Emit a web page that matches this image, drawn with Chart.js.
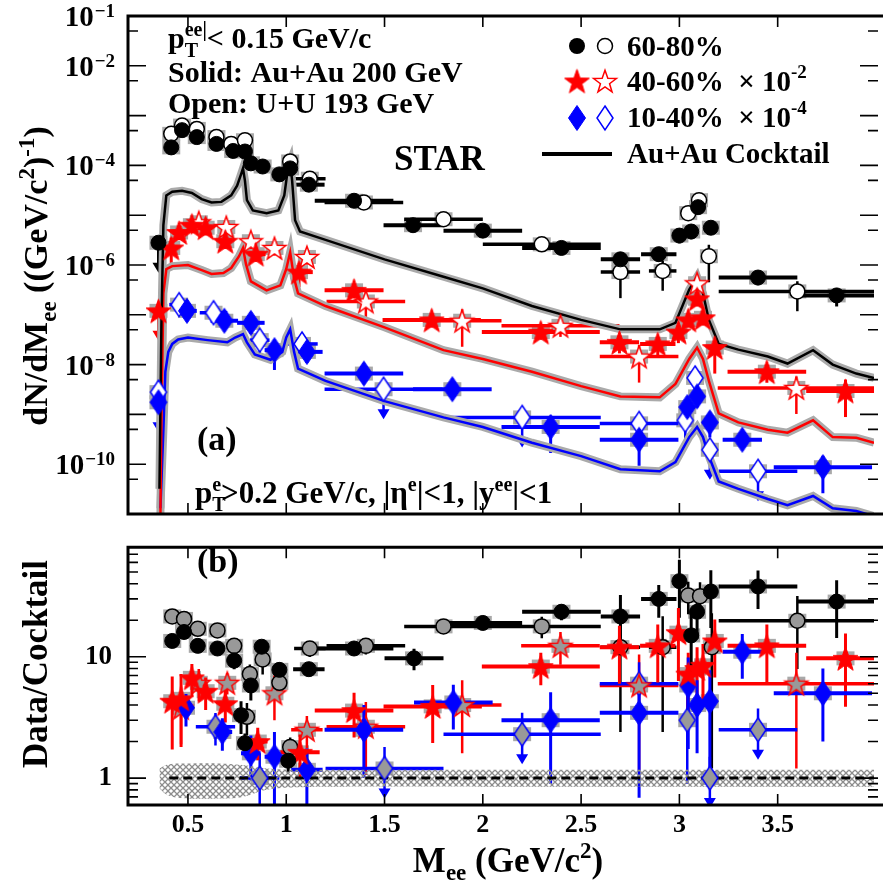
<!DOCTYPE html>
<html>
<head>
<meta charset="utf-8">
<script src="https://cdn.jsdelivr.net/npm/chart.js@4.4.0/dist/chart.umd.min.js"></script>
<style>
  body { margin: 0; background: #fff; }
  #wrap { position: relative; width: 885px; height: 885px; overflow: hidden; background: #fff; }
  canvas { position: absolute; left: 0; }
  #top { top: 0; }
  #bottom { top: 515px; }
</style>
</head>
<body>
<div id="wrap">
  <canvas id="top" width="885" height="525"></canvas>
  <canvas id="bottom" width="885" height="370"></canvas>
</div>
<script>
// ---------- panel (a): dN/dM ----------
const m6080AuAu = [0.35, 0.415, 0.47, 0.545, 0.645, 0.73, 0.79, 0.82, 0.88, 0.965, 1.02, 1.115, 1.345, 1.645, 2.0, 2.4, 2.7, 2.895, 3.0, 3.06, 3.095, 3.16, 3.4, 3.8];
const y6080AuAu = [2.8e-6, 2.3e-4, 5.1e-4, 3.7e-4, 2.7e-4, 1.95e-4, 1.9e-4, 1.1e-4, 9.5e-5, 6.6e-5, 8.7e-5, 4.1e-5, 1.95e-5, 6.3e-6, 4.9e-6, 2.2e-6, 1.3e-6, 1.65e-6, 3.9e-6, 4.7e-6, 1.45e-5, 5.6e-6, 5.6e-7, 2.45e-7];
const dx6080AuAu = [0, 0, 0, 0, 0, 0, 0, 0, 0, 0, 0, 0.08, 0.2, 0.15, 0.2, 0.2, 0.1, 0.09, 0, 0, 0, 0, 0.2, 0.2];
const e6080AuAu = [0.3, 0.1, 0.1, 0.1, 0.1, 0.1, 0.1, 0.1, 0.1, 0.1, 0.1, 0.1, 0.1, 0.15, 0.15, 0.2, 0.3, 0.3, 0.3, 0.3, 0.2, 0.2, 0.3, 0.4];
const ul6080AuAu = [1, 0, 0, 0, 0, 0, 0, 0, 0, 0, 0, 0, 0, 0, 0, 0, 0, 0, 0, 0, 0, 0, 0, 0];

const m6080UU = [0.415, 0.47, 0.545, 0.645, 0.72, 0.79, 1.02, 1.12, 1.395, 1.8, 2.3, 2.7, 2.915, 3.045, 3.1, 3.15, 3.6];
const y6080UU = [4.3e-4, 6.3e-4, 5.4e-4, 3.7e-4, 2.7e-4, 3.2e-4, 1.2e-4, 5.4e-5, 1.8e-5, 8.3e-6, 2.6e-6, 7.2e-7, 7.6e-7, 1.1e-5, 2.0e-5, 1.5e-6, 2.95e-7];
const dx6080UU = [0, 0, 0, 0, 0, 0, 0, 0.08, 0.2, 0.2, 0.3, 0.1, 0.07, 0, 0, 0, 0.4];
const e6080UU = [0.1, 0.1, 0.1, 0.1, 0.1, 0.1, 0.1, 0.1, 0.15, 0.15, 0.2, 0.7, 0.6, 0.3, 0.2, 0.7, 0.6];

const m4060AuAu = [0.35, 0.415, 0.455, 0.52, 0.59, 0.69, 0.845, 1.065, 1.345, 1.74, 2.295, 2.695, 2.89, 2.995, 3.045, 3.09, 3.12, 3.18, 3.445, 3.845];
const y4060AuAu = [1.2e-7, 2.2e-6, 4.5e-6, 6.3e-6, 5.6e-6, 3.0e-6, 1.65e-6, 7.2e-7, 3.1e-7, 7.9e-8, 4.5e-8, 2.8e-8, 2.6e-8, 4.5e-8, 7.9e-8, 2.1e-7, 8.7e-8, 2.2e-8, 7.2e-9, 2.95e-9];
const dx4060AuAu = [0, 0, 0, 0, 0, 0, 0.05, 0.07, 0.15, 0.25, 0.3, 0.1, 0.09, 0, 0, 0, 0, 0, 0.2, 0.2];
const e4060AuAu = [0.5, 0.6, 0.3, 0.3, 0.3, 0.3, 0.3, 0.5, 0.3, 0.3, 0.3, 0.4, 0.4, 0.4, 0.3, 0.3, 0.3, 0.7, 0.4, 0.7];
const ul4060AuAu = [1, 0, 0, 0, 0, 0, 0, 0, 0, 0, 0, 0, 0, 0, 0, 0, 0, 0, 0, 0];

const m4060UU = [0.555, 0.695, 0.82, 0.94, 1.105, 1.405, 1.895, 2.395, 2.795, 3.09, 3.595];
const y4060UU = [7.2e-6, 5.8e-6, 3.0e-6, 2.2e-6, 1.45e-6, 1.85e-7, 7.6e-8, 6.0e-8, 1.45e-8, 4.3e-7, 3.4e-9];
const dx4060UU = [0, 0, 0, 0, 0, 0.2, 0.2, 0.3, 0.2, 0, 0.4];
const e4060UU = [0.3, 0.3, 0.3, 0.3, 0.3, 0.6, 0.7, 0.4, 0.7, 0.3, 0.7];

const m1040AuAu = [0.35, 0.495, 0.685, 0.82, 0.94, 1.105, 1.395, 1.845, 2.345, 2.795, 3.04, 3.09, 3.155, 3.32, 3.73];
const y1040AuAu = [1.75e-9, 1.2e-7, 7.6e-8, 6.9e-8, 1.95e-8, 1.8e-8, 6.6e-9, 3.2e-9, 5.6e-10, 3.1e-10, 1.4e-9, 2.3e-9, 6.9e-10, 3.1e-10, 8.7e-11];
const dx1040AuAu = [0, 0.05, 0.07, 0.07, 0.05, 0.08, 0.2, 0.2, 0.25, 0.2, 0, 0, 0, 0.1, 0.25];
const e1040AuAu = [0.7, 0.3, 0.3, 0.4, 0.6, 0.4, 0.3, 0.3, 0.7, 0.7, 0.5, 0.4, 0.5, 0.3, 0.7];
const ul1040AuAu = [1, 0, 0, 0, 0, 0, 0, 0, 0, 0, 0, 0, 0, 0, 0];

const m1040UU = [0.35, 0.455, 0.63, 0.865, 1.08, 1.495, 2.2, 2.795, 3.03, 3.08, 3.155, 3.4];
const y1040UU = [2.8e-9, 1.6e-7, 1.1e-7, 3.1e-8, 2.6e-8, 3.2e-9, 8.7e-10, 6.6e-10, 7.6e-10, 5.4e-9, 1.95e-10, 7.2e-11];
const dx1040UU = [0, 0.05, 0.07, 0.05, 0.08, 0.3, 0.4, 0.2, 0, 0, 0, 0.2];
const e1040UU = [0.6, 0.3, 0.3, 0.5, 0.4, 0.5, 0.5, 0.4, 0.6, 0.4, 0.5, 0.5];
const ul1040UU = [0, 0, 0, 0, 0, 1, 1, 0, 0, 0, 1, 1];

// cocktails
const ckBlackM = [0.355, 0.365, 0.375, 0.39, 0.42, 0.47, 0.52, 0.57, 0.62, 0.67, 0.72, 0.75, 0.77, 0.78, 0.79, 0.80, 0.83, 0.9, 0.96, 0.99, 1.01, 1.02, 1.03, 1.045, 1.07, 1.2, 1.5, 1.8, 2.0, 2.25, 2.5, 2.7, 2.9, 2.98, 3.05, 3.09, 3.12, 3.15, 3.2, 3.3, 3.45, 3.55, 3.68, 3.78, 3.9, 3.99];
const ckBlackY = [3.2e-11, 6.9e-8, 6.3e-6, 2.5e-5, 2.95e-5, 3.1e-5, 2.8e-5, 2.1e-5, 1.8e-5, 1.85e-5, 2.5e-5, 3.9e-5, 6.6e-5, 8.7e-5, 4.9e-5, 2.0e-5, 1.25e-5, 1.1e-5, 1.25e-5, 2.5e-5, 9.5e-5, 1.2e-4, 4.9e-5, 7.9e-6, 4.7e-6, 3.2e-6, 1.3e-6, 5.8e-7, 3.4e-7, 1.5e-7, 7.9e-8, 5.1e-8, 5.1e-8, 6.9e-8, 3.2e-7, 5.8e-7, 2.7e-7, 7.9e-8, 2.6e-8, 2.0e-8, 1.45e-8, 1.05e-8, 1.95e-8, 1.0e-8, 6.6e-9, 5.4e-9];
const ckRedM = [0.36, 0.365, 0.375, 0.39, 0.42, 0.5, 0.57, 0.62, 0.68, 0.72, 0.76, 0.78, 0.795, 0.82, 0.9, 0.97, 1.0, 1.02, 1.04, 1.06, 1.2, 1.5, 1.8, 2.0, 2.25, 2.5, 2.7, 2.9, 2.98, 3.05, 3.09, 3.12, 3.15, 3.2, 3.3, 3.45, 3.55, 3.68, 3.78, 3.9, 3.99];
const ckRedY = [1e-11, 7.6e-10, 2.7e-7, 8.3e-7, 9.5e-7, 1.0e-6, 7.9e-7, 6.6e-7, 6.9e-7, 8.7e-7, 1.5e-6, 2.2e-6, 1.05e-6, 4.7e-7, 3.1e-7, 3.9e-7, 8.3e-7, 1.8e-6, 5.4e-7, 2.7e-7, 1.5e-7, 5.6e-8, 1.95e-8, 1.3e-8, 7.2e-9, 3.7e-9, 2.3e-9, 2.2e-9, 4.1e-9, 1.3e-8, 2.2e-8, 1.3e-8, 4.7e-9, 1.05e-9, 6.9e-10, 4.9e-10, 4.3e-10, 7.6e-10, 3.5e-10, 3.4e-10, 2.7e-10];
const ckBlueM = [0.36, 0.375, 0.385, 0.4, 0.42, 0.45, 0.5, 0.6, 0.7, 0.74, 0.78, 0.8, 0.84, 0.92, 0.98, 1.0, 1.02, 1.04, 1.06, 1.2, 1.5, 1.8, 2.0, 2.25, 2.5, 2.7, 2.9, 2.98, 3.05, 3.09, 3.12, 3.15, 3.2, 3.3, 3.45, 3.55, 3.68, 3.78, 3.9, 3.99];
const ckBlueY = [1.3e-11, 4.9e-10, 7.2e-9, 1.8e-8, 2.6e-8, 3.2e-8, 3.5e-8, 3.1e-8, 2.8e-8, 3.5e-8, 4.1e-8, 2.8e-8, 1.6e-8, 1.25e-8, 1.8e-8, 3.5e-8, 5.1e-8, 1.8e-8, 8.3e-9, 4.7e-9, 1.85e-9, 8.7e-10, 5.6e-10, 2.7e-10, 1.45e-10, 7.9e-11, 7.2e-11, 1.1e-10, 3.5e-10, 5.6e-10, 3.5e-10, 1.45e-10, 4.5e-11, 3.2e-11, 2.0e-11, 1.5e-11, 2.3e-11, 1.3e-11, 1.15e-11, 9e-12];

// ---------- panel (b): Data/Cocktail ----------
const rm6080AuAu = [0.42, 0.48, 0.55, 0.65, 0.735, 0.77, 0.79, 0.82, 0.875, 0.965, 1.01, 1.115, 1.345, 1.65, 2.0, 2.4, 2.7, 2.895, 3.0, 3.06, 3.09, 3.16, 3.4, 3.8];
const r6080AuAu = [13.5, 16, 12.3, 11.7, 9.3, 3.3, 1.94, 5.8, 12.1, 7.8, 1.39, 7.9, 11.7, 9.7, 19, 23.5, 21.5, 30, 42, 15, 23.5, 34.5, 38, 28.5];
const rdx6080AuAu = [0, 0, 0, 0, 0, 0, 0, 0, 0, 0, 0, 0.08, 0.2, 0.15, 0.2, 0.2, 0.1, 0.09, 0, 0, 0, 0, 0.2, 0.2];
const re6080AuAu = [0.1, 0.1, 0.08, 0.08, 0.15, 0.3, 0.2, 0.25, 0.1, 0.15, 0.2, 0.1, 0.1, 0.2, 0.1, 0.15, 0.5, 0.3, 0.5, 0.6, 0.4, 0.5, 0.35, 0.5];

const rm6080UU = [0.42, 0.48, 0.55, 0.65, 0.735, 0.8, 0.815, 0.88, 0.965, 1.02, 1.12, 1.405, 1.8, 2.3, 2.7, 2.915, 3.045, 3.105, 3.165, 3.6];
const r6080UU = [21.5, 20.5, 17, 16.5, 12.3, 3.2, 7.2, 9.5, 6.1, 1.8, 11.7, 12.3, 17.8, 17.8, 12, 12, 32, 31.6, 12, 19.8];
const rdx6080UU = [0, 0, 0, 0, 0, 0, 0, 0, 0, 0, 0.08, 0.2, 0.2, 0.3, 0.1, 0.07, 0, 0, 0, 0.4];
const re6080UU = [0.1, 0.1, 0.1, 0.1, 0.15, 0.3, 0.2, 0.25, 0.2, 0.2, 0.15, 0.15, 0.1, 0.2, 0.8, 0.8, 0.3, 0.3, 0.9, 0.6];

const rm4060AuAu = [0.42, 0.465, 0.52, 0.59, 0.69, 0.855, 1.07, 1.345, 1.745, 2.295, 2.695, 2.89, 2.995, 3.045, 3.09, 3.12, 3.18, 3.445, 3.845];
const r4060AuAu = [4.3, 4.5, 6.7, 5.2, 4.1, 2.0, 1.63, 3.6, 3.9, 8.3, 12, 12.3, 15.8, 7.2, 8, 8.5, 13.5, 12.3, 9.7];
const rdx4060AuAu = [0, 0, 0, 0, 0, 0.05, 0.1, 0.2, 0.25, 0.3, 0.1, 0.09, 0, 0, 0, 0, 0, 0.2, 0.2];
const re4060AuAu = [0.6, 0.6, 0.3, 0.3, 0.3, 0.3, 0.4, 0.4, 0.5, 0.3, 0.5, 0.5, 0.6, 0.5, 0.5, 0.5, 0.5, 0.5, 0.6];

const rm4060UU = [0.465, 0.555, 0.7, 0.94, 1.105, 1.405, 1.895, 2.395, 2.795, 3.595];
const r4060UU = [3.8, 6.1, 6.1, 5.0, 2.5, 2.65, 4.0, 12.3, 5.8, 6.0];
const rdx4060UU = [0, 0, 0, 0, 0.08, 0.2, 0.2, 0.2, 0.2, 0.4];
const re4060UU = [0.5, 0.3, 0.2, 0.4, 0.3, 0.6, 0.6, 0.3, 0.8, 0.8];

const rm1040AuAu = [0.49, 0.675, 0.82, 0.94, 1.105, 1.395, 1.85, 2.345, 2.795, 3.045, 3.09, 3.155, 3.32, 3.73];
const r1040AuAu = [3.8, 2.4, 1.6, 1.5, 1.17, 2.5, 4.2, 3.0, 3.45, 5.8, 4.0, 4.3, 11, 5.0];
const rdx1040AuAu = [0, 0.05, 0.05, 0.05, 0.08, 0.2, 0.2, 0.25, 0.2, 0, 0, 0, 0.1, 0.25];
const re1040AuAu = [0.3, 0.3, 0.4, 0.6, 0.5, 0.6, 0.4, 0.7, 0.8, 0.7, 0.6, 0.8, 0.4, 0.6];

const rm1040UU = [0.64, 0.865, 1.5, 2.2, 2.795, 3.04, 3.155, 3.4];
const r1040UU = [2.65, 1.0, 1.2, 2.3, 6.0, 3.0, 1.0, 2.5];
const rdx1040UU = [0.1, 0.1, 0.3, 0.4, 0.2, 0, 0, 0.2];
const re1040UU = [0.3, 0.6, 0.5, 0.5, 0.5, 0.7, 0.5, 0.5];
const rul1040UU = [0, 0, 1, 1, 0, 0, 1, 1];

// cocktail uncertainty band around 1
const bandM = [0.355, 0.4, 0.5, 0.65, 0.78, 0.9, 1.05, 1.3, 2.0, 3.0, 3.99];
const bandHi = [1.2, 1.3, 1.32, 1.32, 1.28, 1.2, 1.17, 1.17, 1.17, 1.17, 1.17];
const bandLo = [0.82, 0.72, 0.68, 0.68, 0.7, 0.8, 0.84, 0.85, 0.85, 0.85, 0.85];

const xTickVals = [0.5, 1, 1.5, 2, 2.5, 3, 3.5];
const topLabelExp = [-1, -2, -4, -6, -8, -10];
const ratioLabels = [1, 10];

const SERIF = '"Liberation Serif", "Times New Roman", serif';
const RED = '#ff0000', BLUE = '#0000ff', BOXGRAY = '#a9a9a9';

// ---------- marker images ----------
function makeStar(r, fill, stroke, lw) {
  const s = Math.ceil(2 * r + lw + 4);
  const c = document.createElement('canvas');
  c.width = s; c.height = s;
  const g = c.getContext('2d');
  g.translate(s / 2, s / 2 + r * 0.1);
  g.beginPath();
  for (let i = 0; i < 10; i++) {
    const rad = i % 2 === 0 ? r : r * 0.4;
    const a = -Math.PI / 2 + i * Math.PI / 5;
    g.lineTo(rad * Math.cos(a), rad * Math.sin(a));
  }
  g.closePath();
  g.fillStyle = fill; g.fill();
  g.strokeStyle = stroke; g.lineWidth = lw; g.stroke();
  return c;
}
function makeDiamond(w, h, fill, stroke, lw) {
  const c = document.createElement('canvas');
  c.width = Math.ceil(w + lw + 2); c.height = Math.ceil(h + lw + 2);
  const g = c.getContext('2d');
  const cx = c.width / 2, cy = c.height / 2;
  g.beginPath();
  g.moveTo(cx, cy - h / 2); g.lineTo(cx + w / 2, cy); g.lineTo(cx, cy + h / 2); g.lineTo(cx - w / 2, cy);
  g.closePath();
  g.fillStyle = fill; g.fill();
  g.strokeStyle = stroke; g.lineWidth = lw; g.stroke();
  return c;
}
const starSolid = makeStar(13, RED, RED, 1);
const starOpenTop = makeStar(12, '#fff', RED, 1.5);
const starOpenBot = makeStar(12, '#999', RED, 1.5);
const diaSolid = makeDiamond(17, 25, BLUE, BLUE, 1);
const diaOpenTop = makeDiamond(16, 24, '#fff', BLUE, 1.5);
const diaOpenBot = makeDiamond(16, 24, '#999', BLUE, 1.5);

function pts(m, v) { return m.map((x, i) => ({ x: x, y: v[i] })); }

function series(m, v, dx, err, ul, style) {
  return Object.assign({ data: pts(m, v), dx: dx, err: err, ul: ul, showLine: false }, style);
}
function curve(m, v, color, width, order) {
  return { data: pts(m, v), showLine: true, pointRadius: 0, borderColor: color, borderWidth: width, tension: 0, order: order, fill: false };
}

const circleSolid = { pointStyle: 'circle', pointRadius: 7.5, pointBackgroundColor: '#000', pointBorderColor: '#000', pointBorderWidth: 1, ebColor: '#000', ebWidth: 3, order: 1 };

// ---------- text helper ----------
function richText(ctx, x, y, parts, draw) {
  let cx = x;
  parts.forEach(p => {
    ctx.font = 'bold ' + p[1] + 'px ' + SERIF;
    if (draw !== false) ctx.fillText(p[0], cx, y + (p[2] || 0));
    if (!p[3]) cx += ctx.measureText(p[0]).width;
  });
  return cx - x;
}

// ---------- plugins ----------
const errorBars = {
  id: 'errorBars',
  beforeDatasetsDraw(chart) {
    const { ctx, chartArea: a, scales: { x, y } } = chart;
    ctx.save();
    ctx.beginPath();
    ctx.rect(a.left, a.top, a.right - a.left, a.bottom - a.top);
    ctx.clip();
    chart.data.datasets.forEach(ds => {
      if (!ds.ebColor) return;
      ctx.fillStyle = BOXGRAY;
      ds.data.forEach(p => {
        const px = x.getPixelForValue(p.x), py = y.getPixelForValue(p.y);
        ctx.fillRect(px - 9, py - 7, 18, 14);
      });
    });
    chart.data.datasets.forEach(ds => {
      if (!ds.ebColor) return;
      ctx.strokeStyle = ds.ebColor;
      ctx.fillStyle = ds.ebColor;
      ds.data.forEach((p, i) => {
        const px = x.getPixelForValue(p.x), py = y.getPixelForValue(p.y);
        const dx = ds.dx[i], e = ds.err[i];
        const isUl = ds.ul && ds.ul[i];
        ctx.lineWidth = ds.ebWidth + 1;
        if (dx > 0) {
          ctx.beginPath();
          ctx.moveTo(x.getPixelForValue(p.x - dx), py);
          ctx.lineTo(x.getPixelForValue(p.x + dx), py);
          ctx.stroke();
        }
        ctx.lineWidth = ds.ebWidth;
        const hi = y.getPixelForValue(p.y * (1 + e));
        let lo = e >= 1 ? a.bottom : y.getPixelForValue(p.y * (1 - e));
        if (isUl) lo = py + 30;
        ctx.beginPath();
        ctx.moveTo(px, hi);
        ctx.lineTo(px, isUl ? lo - 8 : lo);
        ctx.stroke();
        if (isUl) {
          ctx.beginPath();
          ctx.moveTo(px - 6, lo - 10);
          ctx.lineTo(px + 6, lo - 10);
          ctx.lineTo(px, lo);
          ctx.closePath();
          ctx.fill();
        }
      });
    });
    ctx.restore();
  }
};

function framePlugin(major, minor) {
  return {
    id: 'frame',
    afterDatasetsDraw(chart) {
      const { ctx, chartArea: a, scales: { x, y } } = chart;
      const rightEdge = a.right + 4;
      ctx.save();
      ctx.strokeStyle = '#000';
      ctx.lineWidth = 1.6;
      ctx.beginPath();
      xTickVals.forEach(v => {
        const px = x.getPixelForValue(v);
        ctx.moveTo(px, a.top); ctx.lineTo(px, a.top + 11);
        ctx.moveTo(px, a.bottom); ctx.lineTo(px, a.bottom - 11);
      });
      major.forEach(v => {
        const py = y.getPixelForValue(v);
        ctx.moveTo(a.left, py); ctx.lineTo(a.left + 18, py);
        ctx.moveTo(rightEdge, py); ctx.lineTo(rightEdge - 18, py);
      });
      minor.forEach(v => {
        const py = y.getPixelForValue(v);
        ctx.moveTo(a.left, py); ctx.lineTo(a.left + 10, py);
        ctx.moveTo(rightEdge, py); ctx.lineTo(rightEdge - 10, py);
      });
      ctx.stroke();
      ctx.lineWidth = 3;
      ctx.beginPath();
      ctx.moveTo(a.left, a.top); ctx.lineTo(rightEdge + 5, a.top);
      ctx.moveTo(a.left, a.top - 1.5); ctx.lineTo(a.left, a.bottom + 1.5);
      ctx.moveTo(a.left, a.bottom); ctx.lineTo(rightEdge + 5, a.bottom);
      ctx.stroke();
      ctx.restore();
    }
  };
}

const topMajor = [], topMinor = [];
for (let n = -11; n <= -1; n++) topMajor.push(Math.pow(10, n));
for (let n = -11; n <= -2; n++) topMinor.push(5 * Math.pow(10, n));
const botMajor = [1, 10];
const botMinor = [0.6, 0.7, 0.8, 0.9, 2, 3, 4, 5, 6, 7, 8, 9, 20, 30, 40, 50, 60, 70, 80];

const topDecor = {
  id: 'topDecor',
  afterDraw(chart) {
    const { ctx, scales: { y } } = chart;
    ctx.save();
    ctx.fillStyle = '#000';
    ctx.textBaseline = 'alphabetic';
    ctx.textAlign = 'left';
    // y tick labels 10^n
    topLabelExp.forEach(n => {
      const py = y.getPixelForValue(Math.pow(10, n));
      const ex = '\u2212' + Math.abs(n);
      ctx.font = 'bold 19px ' + SERIF;
      const ew = ctx.measureText(ex).width;
      ctx.fillText(ex, 115 - ew, py + 1);
      ctx.font = 'bold 29px ' + SERIF;
      const bw = ctx.measureText('10').width;
      ctx.fillText('10', 115 - ew - bw - 1, py + 10);
    });
    // y axis title
    ctx.save();
    ctx.translate(47, 0);
    ctx.rotate(-Math.PI / 2);
    const yt = [['dN/dM', 34], ['ee', 23, 9], [' ((GeV/c', 34], ['2', 23, -13], [')', 34], ['-1', 23, -13], [')', 34]];
    const w = richText(ctx, 0, 0, yt, false);
    richText(ctx, -(276 + w / 2), 0, yt);
    ctx.restore();
    // annotations
    richText(ctx, 168, 48, [['p', 30], ['T', 20, 9, true], ['ee|', 20, -12], ['< 0.15 GeV/c', 30]]);
    richText(ctx, 168, 82, [['Solid: Au+Au 200 GeV', 30]]);
    richText(ctx, 168, 113, [['Open: U+U 193 GeV', 30]]);
    richText(ctx, 394, 170, [['STAR', 35]]);
    richText(ctx, 197, 450, [['(a)', 34]]);
    richText(ctx, 195, 503, [['p', 31], ['T', 20, 8, true], ['e', 20, -12], ['>0.2 GeV/c, |\u03b7', 31], ['e', 20, -12], ['|<1, |y', 31], ['ee', 20, -12], ['|<1', 31]]);
    // legend
    ctx.beginPath(); ctx.arc(577, 46, 8, 0, 2 * Math.PI); ctx.fill();
    ctx.beginPath(); ctx.arc(605, 46, 7.5, 0, 2 * Math.PI);
    ctx.strokeStyle = '#000'; ctx.lineWidth = 1.5; ctx.stroke();
    ctx.drawImage(starSolid, 577 - starSolid.width / 2, 81 - starSolid.height / 2);
    ctx.drawImage(starOpenTop, 605 - starOpenTop.width / 2, 81 - starOpenTop.height / 2);
    ctx.drawImage(diaSolid, 577 - diaSolid.width / 2, 118 - diaSolid.height / 2);
    ctx.drawImage(diaOpenTop, 605 - diaOpenTop.width / 2, 118 - diaOpenTop.height / 2);
    ctx.lineWidth = 4;
    ctx.beginPath(); ctx.moveTo(542, 154); ctx.lineTo(612, 154); ctx.stroke();
    richText(ctx, 627, 56, [['60-80%', 29]]);
    richText(ctx, 627, 91, [['40-60%', 29], ['  \u00d7 10', 29], ['-2', 19, -13]]);
    richText(ctx, 627, 127, [['10-40%', 29], ['  \u00d7 10', 29], ['-4', 19, -13]]);
    richText(ctx, 627, 163, [['Au+Au Cocktail', 29]]);
    ctx.restore();
  }
};

const botDecor = {
  id: 'botDecor',
  afterDraw(chart) {
    const { ctx } = chart;
    ctx.save();
    ctx.fillStyle = '#000';
    ctx.textAlign = 'left';
    ctx.textBaseline = 'alphabetic';
    richText(ctx, 197, 57, [['(b)', 34]]);
    const xt = [['M', 35], ['ee', 23, 8], [' (GeV/c', 35], ['2', 23, -14], [')', 35]];
    const w = richText(ctx, 0, 0, xt, false);
    richText(ctx, 508 - w / 2, 357, xt);
    ctx.save();
    ctx.translate(47, 0);
    ctx.rotate(-Math.PI / 2);
    const yt = [['Data/Cocktail', 35]];
    const w2 = richText(ctx, 0, 0, yt, false);
    richText(ctx, -(149 + w2 / 2), 0, yt);
    ctx.restore();
    ctx.restore();
  }
};

// ---------- top chart ----------
new Chart(document.getElementById('top'), {
  type: 'scatter',
  data: {
    datasets: [
      curve(ckBlackM, ckBlackY, '#aaaaaa', 8, 20),
      curve(ckRedM, ckRedY, '#aaaaaa', 8, 20),
      curve(ckBlueM, ckBlueY, '#aaaaaa', 8, 20),
      curve(ckBlackM, ckBlackY, '#000', 2.5, 15),
      curve(ckRedM, ckRedY, RED, 2.5, 15),
      curve(ckBlueM, ckBlueY, BLUE, 2.5, 15),
      series(m6080UU, y6080UU, dx6080UU, e6080UU, null, { pointStyle: 'circle', pointRadius: 7.5, pointBackgroundColor: '#fff', pointBorderColor: '#000', pointBorderWidth: 1.5, ebColor: '#000', ebWidth: 2.5, order: 5 }),
      series(m4060UU, y4060UU, dx4060UU, e4060UU, null, { pointStyle: starOpenTop, pointRadius: 10, ebColor: RED, ebWidth: 2.5, order: 5 }),
      series(m1040UU, y1040UU, dx1040UU, e1040UU, ul1040UU, { pointStyle: diaOpenTop, pointRadius: 10, ebColor: BLUE, ebWidth: 2.5, order: 5 }),
      series(m6080AuAu, y6080AuAu, dx6080AuAu, e6080AuAu, ul6080AuAu, circleSolid),
      series(m4060AuAu, y4060AuAu, dx4060AuAu, e4060AuAu, ul4060AuAu, { pointStyle: starSolid, pointRadius: 10, ebColor: RED, ebWidth: 3, order: 1 }),
      series(m1040AuAu, y1040AuAu, dx1040AuAu, e1040AuAu, ul1040AuAu, { pointStyle: diaSolid, pointRadius: 10, ebColor: BLUE, ebWidth: 3, order: 1 })
    ]
  },
  options: {
    responsive: false,
    animation: false,
    events: [],
    layout: { padding: { left: 128, top: 16, right: 0, bottom: 0 } },
    plugins: { legend: { display: false }, tooltip: { enabled: false } },
    scales: {
      x: { type: 'linear', min: 0.195, max: 3.99, display: false },
      y: { type: 'logarithmic', min: 1e-11, max: 1e-1, display: false }
    }
  },
  plugins: [errorBars, framePlugin(topMajor, topMinor), topDecor]
});

// ---------- bottom chart ----------
const botCanvas = document.getElementById('bottom');
const hatchTile = document.createElement('canvas');
hatchTile.width = 6; hatchTile.height = 6;
(function () {
  const g = hatchTile.getContext('2d');
  g.strokeStyle = '#8c8c8c'; g.lineWidth = 1.3;
  g.beginPath();
  g.moveTo(0, 0); g.lineTo(6, 6);
  g.moveTo(6, 0); g.lineTo(0, 6);
  g.stroke();
})();
const hatch = botCanvas.getContext('2d').createPattern(hatchTile, 'repeat');

const tickFont = { family: SERIF, size: 27, weight: 'bold' };

new Chart(botCanvas, {
  type: 'scatter',
  data: {
    datasets: [
      { data: pts(bandM, bandHi), showLine: true, pointRadius: 0, borderWidth: 0, tension: 0.4, fill: '+1', backgroundColor: hatch, order: 30 },
      { data: pts(bandM, bandLo), showLine: true, pointRadius: 0, borderWidth: 0, tension: 0.4, fill: false, order: 31 },
      { data: [{ x: 0.405, y: 1 }, { x: 3.99, y: 1 }], showLine: true, pointRadius: 0, borderColor: '#000', borderWidth: 3, borderDash: [9, 5], order: 25 },
      series(rm6080UU, r6080UU, rdx6080UU, re6080UU, null, { pointStyle: 'circle', pointRadius: 7.5, pointBackgroundColor: '#999', pointBorderColor: '#000', pointBorderWidth: 1.5, ebColor: '#000', ebWidth: 2.5, order: 5 }),
      series(rm4060UU, r4060UU, rdx4060UU, re4060UU, null, { pointStyle: starOpenBot, pointRadius: 10, ebColor: RED, ebWidth: 2.5, order: 5 }),
      series(rm1040UU, r1040UU, rdx1040UU, re1040UU, rul1040UU, { pointStyle: diaOpenBot, pointRadius: 10, ebColor: BLUE, ebWidth: 2.5, order: 5 }),
      series(rm6080AuAu, r6080AuAu, rdx6080AuAu, re6080AuAu, null, circleSolid),
      series(rm4060AuAu, r4060AuAu, rdx4060AuAu, re4060AuAu, null, { pointStyle: starSolid, pointRadius: 10, ebColor: RED, ebWidth: 3, order: 1 }),
      series(rm1040AuAu, r1040AuAu, rdx1040AuAu, re1040AuAu, null, { pointStyle: diaSolid, pointRadius: 10, ebColor: BLUE, ebWidth: 3, order: 1 })
    ]
  },
  options: {
    responsive: false,
    animation: false,
    events: [],
    layout: { padding: { left: 0, top: 10, right: 0, bottom: 0 } },
    plugins: { legend: { display: false }, tooltip: { enabled: false } },
    scales: {
      x: {
        type: 'linear', min: 0.195, max: 3.99,
        afterBuildTicks: s => { s.ticks = xTickVals.map(v => ({ value: v })); },
        afterFit: s => { s.height = 80; },
        grid: { display: false, drawTicks: false },
        border: { display: false },
        ticks: { font: { family: SERIF, size: 26, weight: 'bold' }, color: '#000', padding: 5, maxRotation: 0, autoSkip: false, callback: v => String(v) }
      },
      y: {
        type: 'logarithmic', min: 0.6, max: 80,
        afterBuildTicks: s => { s.ticks = ratioLabels.map(v => ({ value: v })); },
        afterFit: s => { s.width = 128; },
        grid: { display: false, drawTicks: false },
        border: { display: false },
        ticks: { font: tickFont, color: '#000', padding: 16, autoSkip: false, callback: v => String(v) }
      }
    }
  },
  plugins: [errorBars, framePlugin(botMajor, botMinor), botDecor]
});
</script>
</body>
</html>
